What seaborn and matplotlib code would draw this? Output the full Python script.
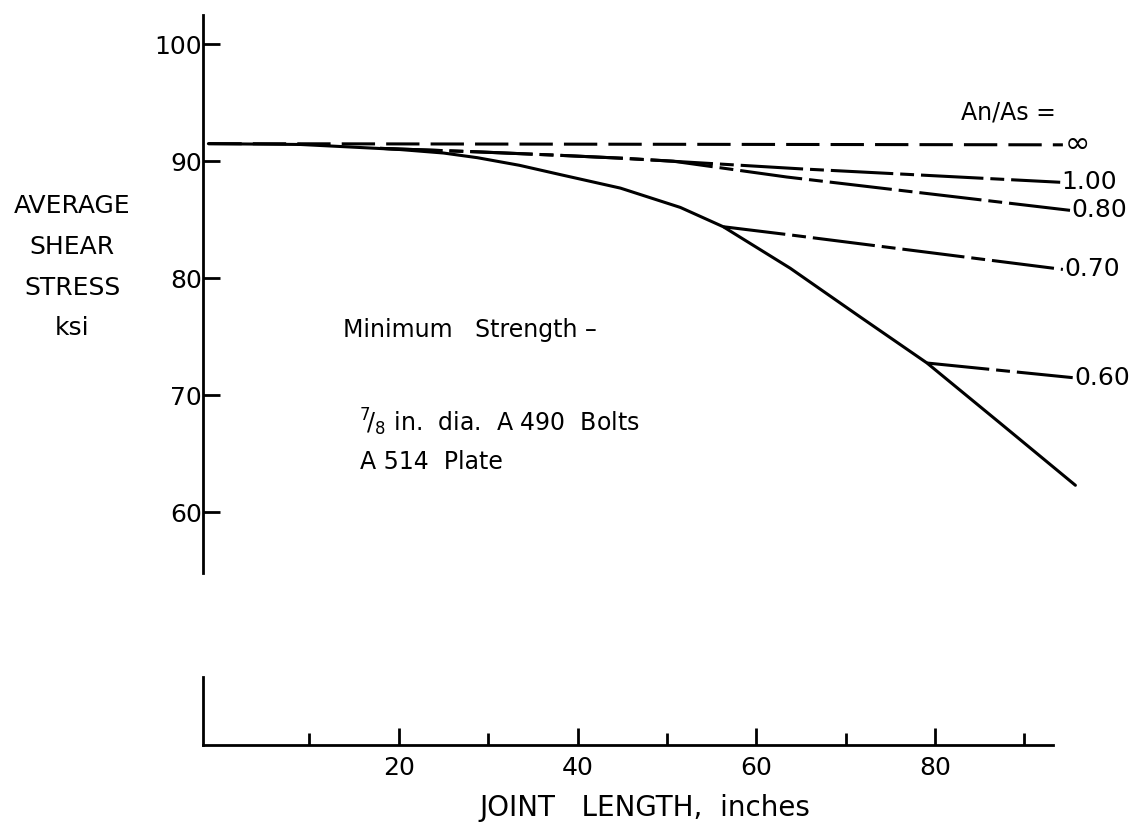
import matplotlib
matplotlib.use("Agg")
import matplotlib.pyplot as plt
import pandas as pd
import seaborn as sns

# values (joint length in inches, stress in ksi)
min_x = [-1.3, 9.0, 20.1, 25.0, 28.8, 33.5, 38.1, 44.8, 51.5, 56.3, 63.8, 71.6, 79.1, 87.3, 95.7]
min_y = [91.5, 91.43, 91.0, 90.7, 90.3, 89.65, 88.85, 87.7, 86.05, 84.4, 80.85, 76.7, 72.75, 67.6, 62.3]

inf_x = [-1.3, 94.3]
inf_y = [91.5, 91.4]

r100_x = [17.9, 28.8, 38.1, 45.1, 64.9, 94.0]
r100_y = [91.1, 90.8, 90.5, 90.25, 89.35, 88.2]

r080_x = [17.9, 28.8, 38.1, 45.1, 50.7, 63.4, 95.1]
r080_y = [91.1, 90.8, 90.5, 90.25, 90.0, 88.65, 85.8]

r070_x = [56.3, 63.8, 94.3]
r070_y = [84.4, 83.7, 80.75]

r060_x = [79.1, 95.4]
r060_y = [72.75, 71.5]

ratio_labels = ["\u221e", "1.00", "0.80", "0.70", "0.60"]
y_ticks = [60, 70, 80, 90, 100]
x_major = [20, 40, 60, 80]
x_minor = [10, 30, 50, 70, 90]

sns.set_style("ticks")
plt.rcParams["font.family"] = ["DejaVu Sans"]
plt.rcParams["lines.scale_dashes"] = False
for key in ["text.color", "axes.labelcolor", "xtick.color", "ytick.color", "axes.edgecolor"]:
    plt.rcParams[key] = "black"

fig = plt.figure(figsize=(11.38, 8.27), dpi=100)
ax = fig.add_axes([0.1784, 0.3071, 0.7768, 0.6748])
ax_low = fig.add_axes([0.1784, 0.0992, 0.7768, 0.0822])

xlim = (-1.9, 97)
lw = 2.2
dash_dot = (0, (45, 5, 10, 5))

series = [
    (inf_x, inf_y, (0, (24, 8))),
    (r100_x, r100_y, dash_dot),
    (r080_x, r080_y, dash_dot),
    (r070_x, r070_y, dash_dot),
    (r060_x, r060_y, dash_dot),
]

df_min = pd.DataFrame({"x": min_x, "y": min_y})
sns.lineplot(data=df_min, x="x", y="y", ax=ax, color="black", lw=lw, sort=False,
             estimator=None, clip_on=False)

for (xs, ys, ls), lab in zip(series, ratio_labels):
    d = pd.DataFrame({"x": xs, "y": ys})
    sns.lineplot(data=d, x="x", y="y", ax=ax, color="black", lw=lw, linestyle=ls,
                 sort=False, estimator=None, clip_on=False)
    size = 22 if lab == "\u221e" else 18
    ax.annotate(lab, xy=(xs[-1], ys[-1]), xytext=(1, 0), textcoords="offset points",
                ha="left", va="center", fontsize=size, annotation_clip=False)

ax.text(82.9, 94.2, "An/As =", fontsize=17, ha="left", va="center")
ax.text(13.8, 75.6, "Minimum   Strength \u2013", fontsize=17, ha="left", va="center")
ax.text(15.5, 67.7, r"$^{7}\!/_{8}$ in.  dia.  A 490  Bolts", fontsize=17, ha="left", va="center")
ax.text(15.7, 64.3, "A 514  Plate", fontsize=17, ha="left", va="center")

# upper panel: stress axis only
ax.set_xlim(*xlim)
ax.set_ylim(54.8, 102.5)
ax.set_yticks(y_ticks)
ax.set_yticklabels([str(t) for t in y_ticks], fontsize=18)
ax.tick_params(axis="y", direction="in", length=12, width=2, pad=1)
ax.set_xticks([])
ax.set_xlabel("")
ax.set_ylabel("")
for s in ["top", "right", "bottom"]:
    ax.spines[s].set_visible(False)
ax.spines["left"].set_linewidth(2)

# lower panel: joint length axis
ax_low.set_xlim(*xlim)
ax_low.set_ylim(0, 1)
ax_low.set_yticks([])
ax_low.set_xticks(x_major)
ax_low.set_xticks(x_minor, minor=True)
ax_low.set_xticklabels([str(t) for t in x_major], fontsize=18)
ax_low.tick_params(axis="x", which="major", direction="in", length=12, width=2, pad=8)
ax_low.tick_params(axis="x", which="minor", direction="in", length=9, width=2)
for s in ["top", "right"]:
    ax_low.spines[s].set_visible(False)
ax_low.spines["left"].set_linewidth(2)
ax_low.spines["bottom"].set_linewidth(2)
ax_low.spines["bottom"].set_bounds(-1.9, 93.2)

# y axis title, stacked words to the left of the axis
for word, ypx in zip(["AVERAGE", "SHEAR", "STRESS", "ksi"], [206, 247, 288, 328]):
    fig.text(72 / 1138, 1 - ypx / 827, word, fontsize=18, ha="center", va="center")

fig.text(645 / 1138, 1 - 808 / 827, "JOINT   LENGTH,  inches", fontsize=20,
         ha="center", va="center")

fig.savefig("out.png", dpi=100)
